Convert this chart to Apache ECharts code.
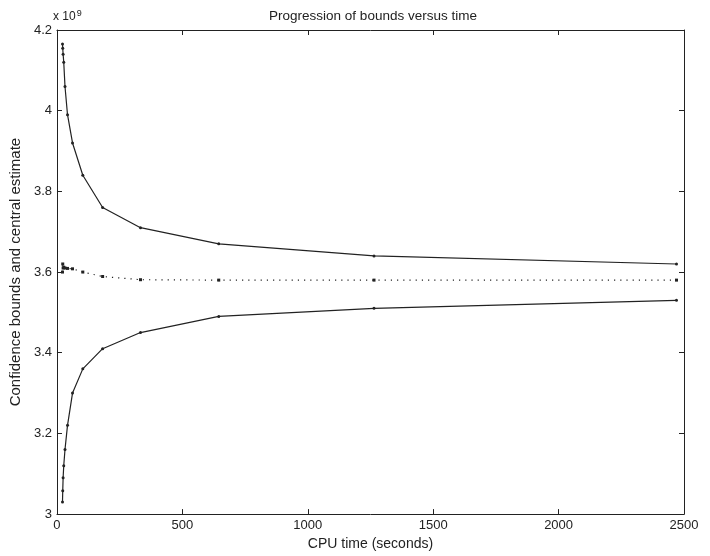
<!DOCTYPE html>
<html>
<head>
<meta charset="utf-8">
<script src="https://cdn.jsdelivr.net/npm/echarts@6/dist/echarts.min.js"></script>
<style>
html,body{margin:0;padding:0;background:#fff;}
#c{width:710px;height:556px;}
</style>
</head>
<body>
<div id="c"></div>
<script>
// CPU time (seconds)
var times = [22, 23, 24.5, 27, 32, 42, 62, 103, 182, 333, 645, 1264, 2470];
// values in units of 1e9
var upperBound = [4.165, 4.155, 4.14, 4.12, 4.06, 3.99, 3.92, 3.84, 3.76, 3.71, 3.67, 3.64, 3.62];
var centralEstimate = [3.600, 3.620, 3.610, 3.612, 3.610, 3.609, 3.608, 3.600, 3.589, 3.581, 3.580, 3.580, 3.580];
var lowerBound = [3.03, 3.058, 3.09, 3.12, 3.16, 3.22, 3.30, 3.36, 3.41, 3.45, 3.49, 3.51, 3.53];
var xTicks = [0, 500, 1000, 1500, 2000, 2500];
var yTicks = [3, 3.2, 3.4, 3.6, 3.8, 4, 4.2];

function pairs(xs, ys){ return xs.map(function(x,i){ return [x, ys[i]]; }); }

var font = '"Liberation Sans", Arial, Helvetica, sans-serif';
var ink = '#222';

var chart = echarts.init(document.getElementById('c'), null, {renderer:'canvas'});
var axisCommon = {
  axisLine:{show:true, onZero:false, lineStyle:{color:ink, width:1}},
  axisTick:{show:true, inside:true, length:5, lineStyle:{color:ink}},
  splitLine:{show:false}
};
chart.setOption({
  backgroundColor:'#fff',
  animation:false,
  title:{
    text:'Progression of bounds versus time',
    left:368, top:4, textAlign:'center',
    textStyle:{fontFamily:font, fontSize:13.5, fontWeight:'normal', color:ink}
  },
  grid:{left:53, right:26, top:30, bottom:37},
  xAxis:[
    Object.assign({
      type:'value', min:xTicks[0], max:xTicks[xTicks.length-1], interval:500,
      name:'CPU time (seconds)', nameLocation:'middle', nameGap:21,
      nameTextStyle:{fontFamily:font, fontSize:14, color:ink},
      axisLabel:{fontFamily:font, fontSize:13, color:ink, margin:5,
        formatter:function(v){ return String(v); }}
    }, axisCommon),
    Object.assign({
      type:'value', position:'top', min:xTicks[0], max:xTicks[xTicks.length-1], interval:500,
      axisLabel:{show:false}
    }, axisCommon)
  ],
  yAxis:[
    Object.assign({
      type:'value', min:yTicks[0], max:yTicks[yTicks.length-1], interval:0.2,
      name:'Confidence bounds and central estimate', nameLocation:'middle', nameGap:27,
      nameTextStyle:{fontFamily:font, fontSize:15, color:ink},
      axisLabel:{fontFamily:font, fontSize:13, color:ink, margin:5,
        formatter:function(v){ return String(+v.toFixed(1)); }}
    }, axisCommon),
    Object.assign({
      type:'value', position:'right', min:yTicks[0], max:yTicks[yTicks.length-1], interval:0.2,
      axisLabel:{show:false}
    }, axisCommon)
  ],
  graphic:[{
    type:'text', left:53, top:9,
    style:{
      text:'{a|x 10}{s|9}',
      rich:{
        a:{fontFamily:font, fontSize:12, fill:ink, verticalAlign:'bottom', lineHeight:14},
        s:{fontFamily:font, fontSize:9, fill:ink, verticalAlign:'top', lineHeight:14, padding:[0,0,8,1]}
      }
    }
  }],
  series:[
    {type:'line', name:'Upper bound', data:pairs(times, upperBound),
     symbol:'circle', symbolSize:3, itemStyle:{color:ink},
     lineStyle:{color:ink, width:1.2}},
    {type:'line', name:'Central estimate', data:pairs(times, centralEstimate),
     symbol:'rect', symbolSize:3, itemStyle:{color:ink},
     lineStyle:{color:ink, width:1.2, type:[1.2,5]}},
    {type:'line', name:'Lower bound', data:pairs(times, lowerBound),
     symbol:'circle', symbolSize:3, itemStyle:{color:ink},
     lineStyle:{color:ink, width:1.2}}
  ]
});
</script>
</body>
</html>
